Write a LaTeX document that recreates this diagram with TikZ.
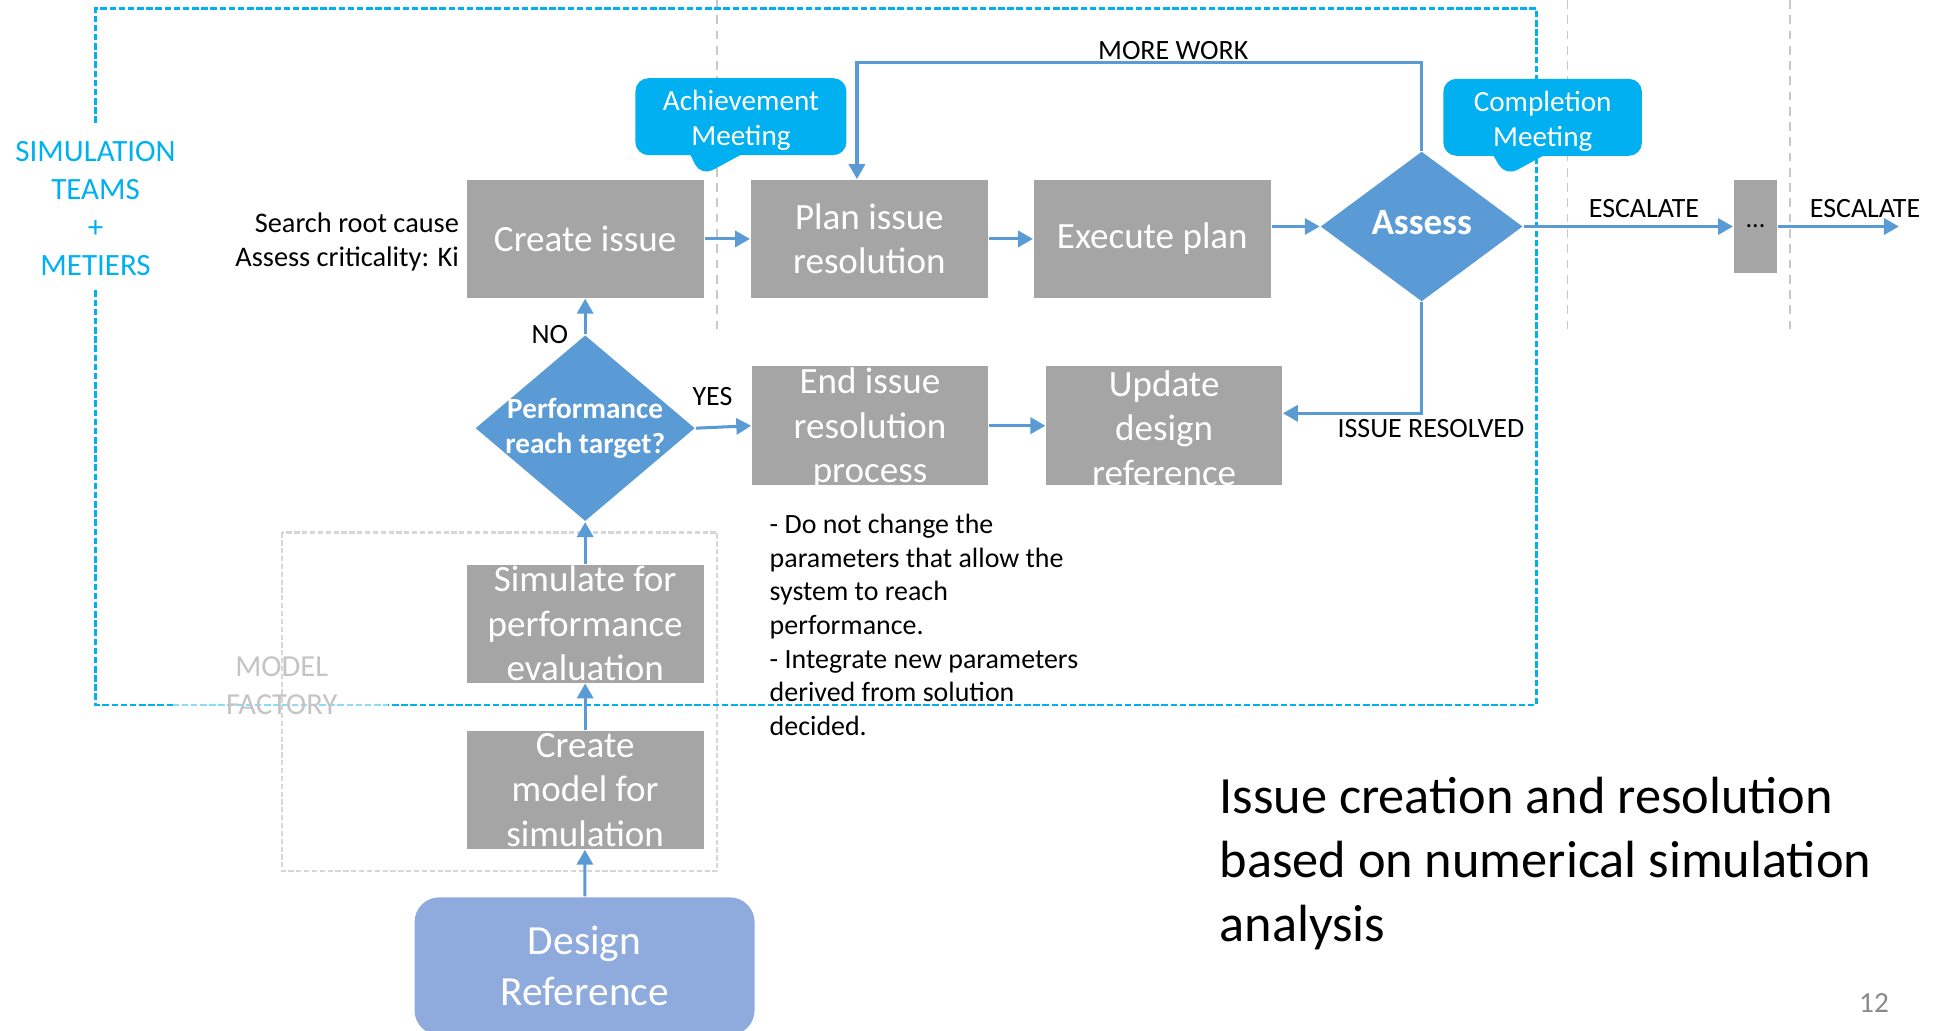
\documentclass[tikz,border=0pt]{standalone}
\usepackage{fontspec}
\setmainfont{Carlito}
\usetikzlibrary{arrows.meta,shapes.geometric,shapes.callouts}

\definecolor{boxgray}{HTML}{A5A5A5}
\definecolor{flowblue}{HTML}{5B9BD5}
\definecolor{meetblue}{HTML}{00B0F0}
\definecolor{refblue}{HTML}{8FAADC}
\definecolor{lanegray}{HTML}{C8C8C8}
\definecolor{factorygray}{HTML}{C4C4C4}
\definecolor{pagegray}{HTML}{898989}

\tikzset{
  stepbox/.style={fill=boxgray, minimum width=1.91cm, minimum height=0.95cm, inner sep=0pt,
    text=white, align=center, font=\fontsize{8.5}{10.2}\selectfont},
  steptext/.style={text=white, align=center, inner sep=0pt, font=\fontsize{8.5}{10.2}\selectfont},
  decision/.style={diamond, fill=flowblue, inner sep=0pt, text=white, align=center},
  meeting/.style={rectangle callout, fill=meetblue, rounded corners=3pt,
    minimum width=1.70cm, minimum height=0.62cm, inner sep=0pt, callout pointer width=0.4cm},
  meettext/.style={text=white, align=center, inner sep=0pt, yshift=-0.03cm, font=\fontsize{6.7}{8}\selectfont},
  flow/.style={draw=flowblue, line width=0.7pt, -{Triangle[length=0.12cm,width=0.13cm]}},
  tag/.style={font=\fontsize{6.4}{7.7}\selectfont, inner sep=1pt},
  teamline/.style={draw=meetblue, line width=0.6pt, dash pattern=on 1.5pt off 0.6pt},
  laneline/.style={draw=lanegray, line width=0.4pt, dash pattern=on 2pt off 1.5pt},
  factoryline/.style={draw=factorygray!70, line width=0.5pt, dash pattern=on 1.2pt off 0.6pt}
}

\begin{document}
\begin{tikzpicture}
	\useasboundingbox (0,0) rectangle (15.68,-8.30);
	% lanes
	\foreach \x in {5.78,12.63,14.42}
		\draw[laneline] (\x,0) -- (\x,-2.68);
	% model factory frame
	\draw[factoryline] (2.27,-4.29) rectangle (5.78,-7.02);
	% team frame
	\draw[teamline] (0.77,-0.99) |- (12.38,-0.07) |- (3.13,-5.68);
	\draw[teamline] (0.77,-2.34) |- (1.39,-5.68);
	\draw[teamline, draw=meetblue!45, line width=0.4pt] (1.39,-5.68) -- (3.13,-5.68);
	\node[text=meetblue, align=center, font=\fontsize{7.1}{8.75}\selectfont] (teams) at (0.77,-1.68)
		{SIMULATION\\TEAMS\\+\\METIERS};
	\node[text=factorygray, align=center, font=\fontsize{7}{8.8}\selectfont] (factory) at (2.27,-5.525)
		{MODEL\\FACTORY};

	% steps
	\node[stepbox] (create) at (4.715,-1.925) {Create issue};
	\node[stepbox] (plan) at (7.005,-1.925) {Plan issue\\resolution};
	\node[stepbox] (exec) at (9.285,-1.925) {Execute plan};
	\node[decision, minimum width=1.63cm, minimum height=1.21cm, font=\bfseries\fontsize{8.5}{10}\selectfont]
		(assess) at (11.455,-1.825) {\raisebox{0.06cm}{Assess}};
	\node[stepbox, minimum width=0.35cm, minimum height=0.75cm, text=black, font=\fontsize{6}{7}\selectfont]
		(more) at (14.145,-1.825) {...};
	\node[decision, minimum width=1.77cm, minimum height=1.50cm,
		label={[steptext, font=\bfseries\fontsize{6.7}{8}\selectfont]center:Performance\\reach target?}]
		(perf) at (4.715,-3.45) {};
	\node[stepbox, minimum width=1.90cm, minimum height=0.96cm,
		label={[steptext, yshift=-0.02cm]center:End issue\\resolution\\process}] (close) at (7.01,-3.43) {};
	\node[stepbox, minimum width=1.90cm, minimum height=0.96cm,
		label={[steptext, yshift=-0.02cm]center:Update\\design\\reference}] (update) at (9.38,-3.43) {};
	\node[stepbox, label={[steptext]center:Simulate for\\performance\\evaluation}] (simulate) at (4.715,-5.025) {};
	\node[stepbox, label={[steptext]center:Create\\model for\\simulation}] (model) at (4.715,-6.365) {};
	\node[fill=refblue, rounded corners=0.2cm, minimum width=2.74cm, minimum height=1.11cm, text=white,
		align=center, font=\fontsize{9.5}{11.7}\selectfont] (design) at (4.71,-7.785) {Design\\Reference};

	% meetings
	\node[meeting, callout absolute pointer={(5.65,-1.42)},
		label={[meettext]center:Achievement\\Meeting}] (achieve) at (5.97,-0.94) {};
	\node[meeting, minimum width=1.60cm, callout absolute pointer={(12.13,-1.42)},
		label={[meettext]center:Completion\\Meeting}] (complete) at (12.43,-0.945) {};

	% notes
	\node[tag, align=right, anchor=east, font=\fontsize{6.5}{7.95}\selectfont] (cause) at (3.74,-1.95)
		{Search root cause\\Assess criticality: Ki};
	\node[tag, align=left, anchor=west] (rules) at (6.16,-5.035)
		{- Do not change the\\parameters that allow the\\system to reach\\performance.\\- Integrate new parameters\\derived from solution\\decided.};
	\node[align=left, anchor=west, inner sep=0pt, font=\fontsize{12}{14.65}\selectfont] (title) at (9.82,-6.96)
		{Issue creation and resolution\\based on numerical simulation\\analysis};
	\node[text=pagegray, font=\fontsize{6.7}{8}\selectfont] (page) at (15.10,-8.08) {12};

	% flow
	\coordinate (loop) at (6.905,-0.50);
	\coordinate (out) at (15.30,-1.825);
	\draw[flow] (create) -- (plan);
	\draw[flow] (plan) -- (exec);
	\draw[flow] (exec.east |- assess.west) -- (assess.west);
	\draw[flow] (assess.east) -- node[tag, pos=0.575, above=0.02cm] (esc1) {ESCALATE} (more.west);
	\draw[flow] (more.east) -- node[tag, pos=0.72, above=0.02cm] (esc2) {ESCALATE} (out);
	\draw[flow] (assess.north) |- node[tag, pos=0.72, above=-0.03cm] (morework) {MORE WORK} (loop) -- (loop |- plan.north);
	\draw[flow] (assess.south) |- node[tag, pos=0.5, below, xshift=0.075cm] (resolved) {ISSUE RESOLVED}
		([yshift=0.1cm]update.east);
	\draw[flow] (perf.north) -- node[tag, pos=0, left=0.09cm] (no) {NO} (create.south);
	\draw[flow] (perf.east) -- node[tag, pos=0.3, above=0.13cm] (yes) {YES} (close.west);
	\draw[flow] (close) -- (update);
	\draw[flow] (simulate) -- (perf.south);
	\draw[flow] (model) -- (simulate);
	\draw[flow] (design) -- (model);
\end{tikzpicture}
\end{document}
